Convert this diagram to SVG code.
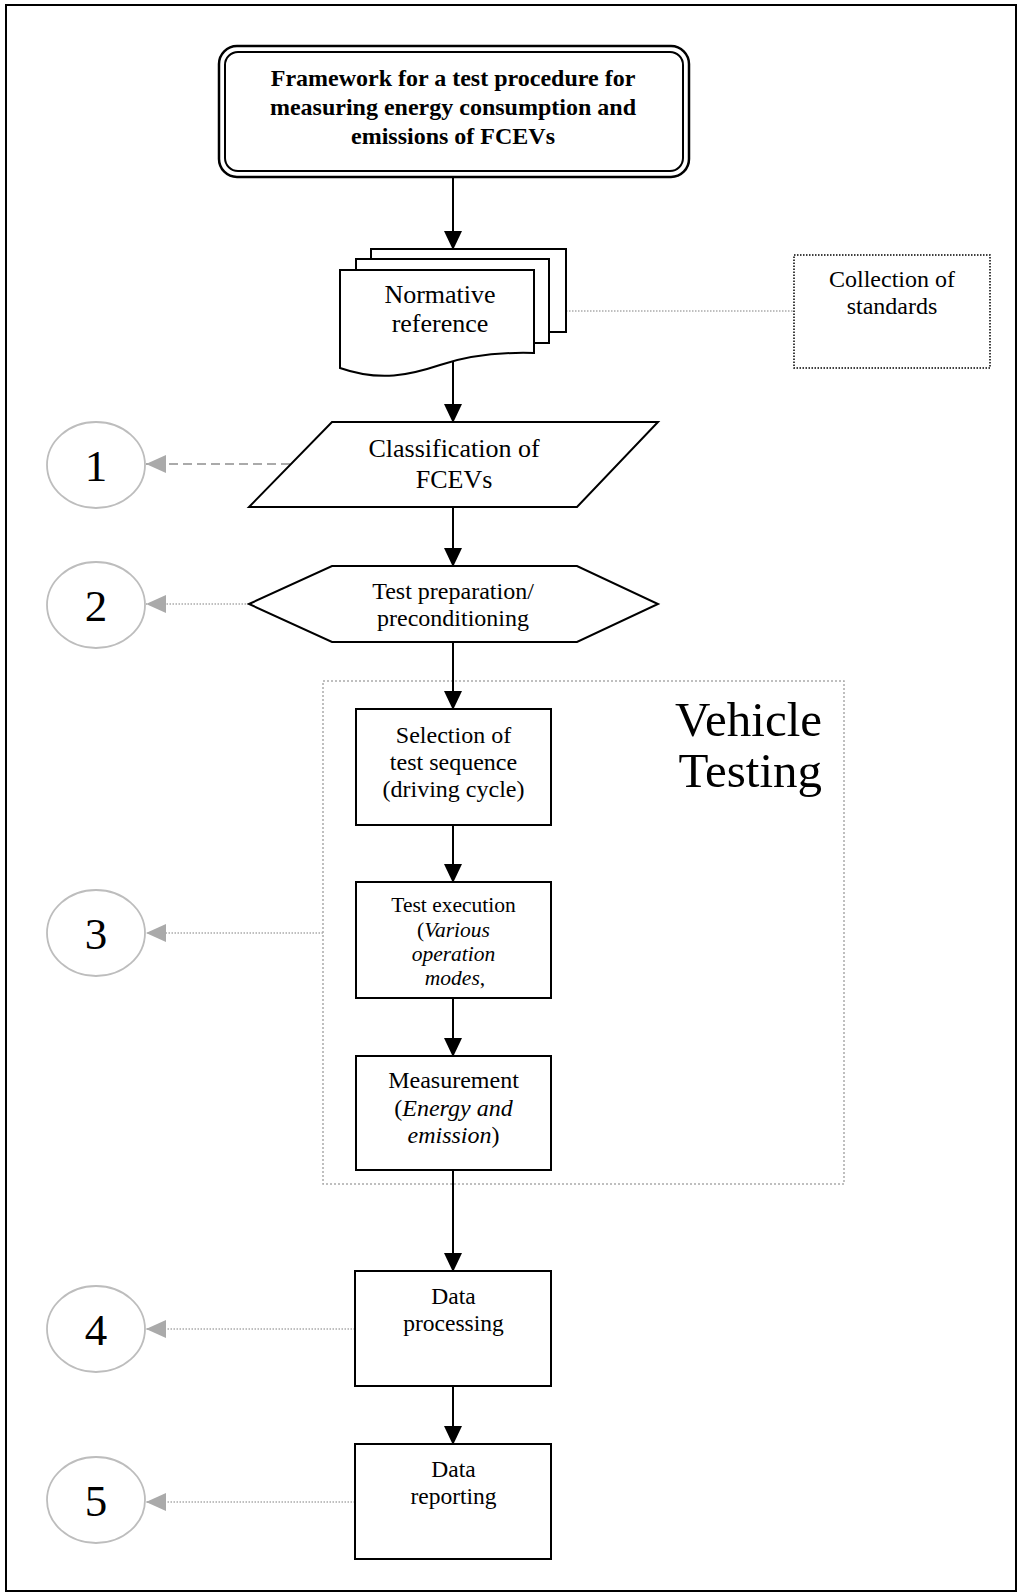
<svg xmlns="http://www.w3.org/2000/svg" width="1019" height="1594" viewBox="0 0 1019 1594">
  <style>
    .shape { fill: #fff; stroke: #000; stroke-width: 2; }
    .txt { font-family: "Liberation Serif", "Times New Roman", serif; fill: #000; text-anchor: middle; }
    .title { font-size: 24px; font-weight: bold; }
    .flow { stroke: #000; stroke-width: 2; fill: none; }
    .ref { stroke: #aaa; stroke-width: 1.5; fill: none; stroke-dasharray: 1.5 1.5; }
    .refdash { stroke: #aaa; stroke-width: 2; fill: none; stroke-dasharray: 9 5; }
    .step { fill: #fff; stroke: #bdbdbd; stroke-width: 1.8; }
    .num { font-size: 45px; }
  </style>
  <defs>
    <marker id="ah" markerUnits="userSpaceOnUse" markerWidth="19" markerHeight="18" refX="18" refY="9" orient="auto">
      <path d="M0,0 L19,9 L0,18 z" fill="#000"/>
    </marker>
    <marker id="ahGray" markerUnits="userSpaceOnUse" markerWidth="20" markerHeight="18" refX="20" refY="9" orient="auto">
      <path d="M0,0 L20,9 L0,18 z" fill="#aaa"/>
    </marker>
  </defs>

  <!-- page frame -->
  <rect x="6" y="5" width="1010" height="1586" fill="#fff" stroke="#000" stroke-width="2"/>

  <!-- Vehicle Testing grouping -->
  <g id="vehicle-testing">
    <rect x="323" y="681" width="521" height="503" fill="none" stroke="#aaa" stroke-width="1.5" stroke-dasharray="2 2"/>
    <text class="txt" style="text-anchor:end" font-size="49" x="822" y="736">Vehicle</text>
    <text class="txt" style="text-anchor:end" font-size="49" x="822" y="787">Testing</text>
  </g>

  <!-- connectors -->
  <g id="connectors">
    <line class="flow" x1="453" y1="178" x2="453" y2="249" marker-end="url(#ah)"/>
    <line class="flow" x1="453" y1="362" x2="453" y2="422" marker-end="url(#ah)"/>
    <line class="flow" x1="453" y1="507" x2="453" y2="566" marker-end="url(#ah)"/>
    <line class="flow" x1="453" y1="642" x2="453" y2="709" marker-end="url(#ah)"/>
    <line class="flow" x1="453" y1="825" x2="453" y2="882" marker-end="url(#ah)"/>
    <line class="flow" x1="453" y1="998" x2="453" y2="1056" marker-end="url(#ah)"/>
    <line class="flow" x1="453" y1="1170" x2="453" y2="1271" marker-end="url(#ah)"/>
    <line class="flow" x1="453" y1="1386" x2="453" y2="1444" marker-end="url(#ah)"/>

    <line class="ref" x1="566" y1="311" x2="794" y2="311"/>
    <line class="refdash" x1="290" y1="464" x2="146" y2="464" marker-end="url(#ahGray)"/>
    <line class="ref" x1="249" y1="604" x2="146" y2="604" marker-end="url(#ahGray)"/>
    <line class="ref" x1="323" y1="933" x2="146" y2="933" marker-end="url(#ahGray)"/>
    <line class="ref" x1="355" y1="1329" x2="146" y2="1329" marker-end="url(#ahGray)"/>
    <line class="ref" x1="355" y1="1502" x2="146" y2="1502" marker-end="url(#ahGray)"/>
  </g>

  <!-- title -->
  <g id="title">
    <rect x="219" y="46" width="470" height="131" rx="18" fill="#fff" stroke="#000" stroke-width="2.5"/>
    <rect x="225" y="52" width="458" height="119" rx="13" fill="none" stroke="#000" stroke-width="2"/>
    <text class="txt title" x="453" y="86">Framework for a test procedure for</text>
    <text class="txt title" x="453" y="115">measuring energy consumption and</text>
    <text class="txt title" x="453" y="144">emissions of FCEVs</text>
  </g>

  <!-- stacked documents -->
  <g id="normative-reference">
    <rect class="shape" x="371" y="249" width="195" height="83"/>
    <rect class="shape" x="356" y="259" width="193" height="84"/>
    <path class="shape" d="M340,270 H534 V353 C500,352 470,355 440,365 C410,375 380,382 340,368 Z"/>
    <text class="txt" font-size="26" x="440" y="303">Normative</text>
    <text class="txt" font-size="26" x="440" y="332">reference</text>
  </g>

  <g id="collection-of-standards">
    <rect x="794" y="255" width="196" height="113" fill="#fff" stroke="#000" stroke-width="1.5" stroke-dasharray="1.5 1.5"/>
    <text class="txt" font-size="24" x="892" y="287">Collection of</text>
    <text class="txt" font-size="24" x="892" y="314">standards</text>
  </g>

  <g id="classification">
    <polygon class="shape" points="332,422 658,422 577,507 249,507"/>
    <text class="txt" font-size="26" x="454" y="457">Classification of</text>
    <text class="txt" font-size="26" x="454" y="488">FCEVs</text>
  </g>

  <g id="test-preparation">
    <polygon class="shape" points="249,604 332,566 577,566 658,604 577,642 332,642"/>
    <text class="txt" font-size="24" x="453" y="599">Test preparation/</text>
    <text class="txt" font-size="24" x="453" y="626">preconditioning</text>
  </g>

  <g id="test-sequence">
    <rect class="shape" x="356" y="709" width="195" height="116"/>
    <text class="txt" font-size="24" x="453.5" y="743">Selection of</text>
    <text class="txt" font-size="24" x="453.5" y="770">test sequence</text>
    <text class="txt" font-size="24" x="453.5" y="797">(driving cycle)</text>
  </g>

  <g id="test-execution">
    <rect class="shape" x="356" y="882" width="195" height="116"/>
    <text class="txt" font-size="21.5" x="453.5" y="912">Test execution</text>
    <text class="txt" font-size="21.5" x="453.5" y="937">(<tspan font-style="italic">Various</tspan></text>
    <text class="txt" font-size="21.5" x="453.5" y="961" font-style="italic">operation</text>
    <text class="txt" font-size="21.5" x="455" y="985"><tspan font-style="italic">modes</tspan>,</text>
  </g>

  <g id="measurement">
    <rect class="shape" x="356" y="1056" width="195" height="114"/>
    <text class="txt" font-size="24" x="453.5" y="1088">Measurement</text>
    <text class="txt" font-size="24" x="453.5" y="1116">(<tspan font-style="italic">Energy and</tspan></text>
    <text class="txt" font-size="24" x="453.5" y="1143"><tspan font-style="italic">emission</tspan>)</text>
  </g>

  <g id="data-processing">
    <rect class="shape" x="355" y="1271" width="196" height="115"/>
    <text class="txt" font-size="23.5" x="453.5" y="1304">Data</text>
    <text class="txt" font-size="23.5" x="453.5" y="1331">processing</text>
  </g>

  <g id="data-reporting">
    <rect class="shape" x="355" y="1444" width="196" height="115"/>
    <text class="txt" font-size="23.5" x="453.5" y="1477">Data</text>
    <text class="txt" font-size="23.5" x="453.5" y="1504">reporting</text>
  </g>

  <!-- step markers -->
  <g id="step-1">
    <ellipse class="step" cx="96" cy="465" rx="49" ry="43"/>
    <text class="txt num" x="96" y="481">1</text>
  </g>
  <g id="step-2">
    <ellipse class="step" cx="96" cy="605" rx="49" ry="43"/>
    <text class="txt num" x="96" y="621">2</text>
  </g>
  <g id="step-3">
    <ellipse class="step" cx="96" cy="933" rx="49" ry="43"/>
    <text class="txt num" x="96" y="949">3</text>
  </g>
  <g id="step-4">
    <ellipse class="step" cx="96" cy="1329" rx="49" ry="43"/>
    <text class="txt num" x="96" y="1345">4</text>
  </g>
  <g id="step-5">
    <ellipse class="step" cx="96" cy="1500" rx="49" ry="43"/>
    <text class="txt num" x="96" y="1516">5</text>
  </g>
</svg>
